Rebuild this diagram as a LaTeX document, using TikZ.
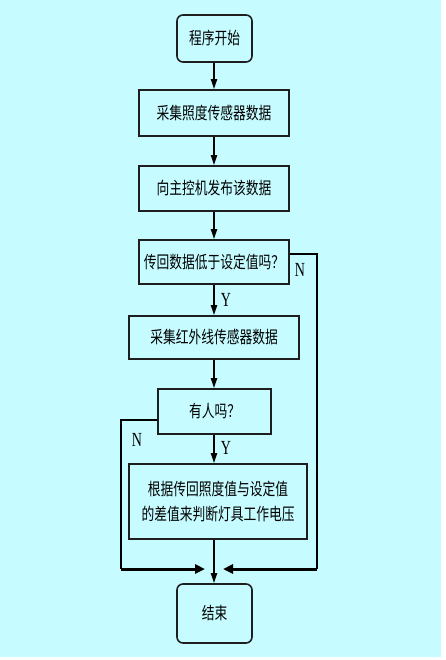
\documentclass[tikz,border=0pt]{standalone}
\usepackage{fontspec}
\setmainfont{Noto Sans CJK SC}[FakeStretch=0.75]
\newfontfamily\latinfont{Liberation Serif}[FakeStretch=0.7]
\usetikzlibrary{arrows.meta}
\definecolor{bgcyan}{RGB}{198,252,255}
\definecolor{boxline}{RGB}{30,30,30}
\begin{document}
\begin{tikzpicture}[x=1pt,y=-1pt,
  box/.style={draw=boxline,line width=1.6pt,fill=bgcyan,inner sep=0pt,
    font=\fontsize{17}{25}\selectfont,align=center},
  term/.style={box,rounded corners=6pt},
  conn/.style={draw=black,line width=1.8pt,-{Triangle[width=6pt,length=10pt]}},
  side/.style={draw=black,line width=1.8pt},
  merge/.style={draw=black,line width=3pt,-{Triangle[width=9pt,length=10pt]}},
  lab/.style={font=\latinfont\fontsize{20}{20}\selectfont,inner sep=0pt}]
\useasboundingbox (0,0) rectangle (445,660);
\fill[white] (0,0) rectangle (445,660);
\fill[bgcyan] (0,0) rectangle (441,657);
\node[term,minimum width=75pt,minimum height=47pt] (s) at (214.5,38.5) {程序开始};
\node[box,minimum width=150pt,minimum height=46pt] (b2) at (214,113) {采集照度传感器数据};
\node[box,minimum width=150pt,minimum height=45pt] (b3) at (214,188.5) {向主控机发布该数据};
\node[box,minimum width=150pt,minimum height=44pt] (b4) at (214,262) {传回数据低于设定值吗？};
\node[box,minimum width=170pt,minimum height=43pt] (b5) at (214,337.5) {采集红外线传感器数据};
\node[box,minimum width=113pt,minimum height=45pt] (b6) at (214.5,411.5) {有人吗？};
\node[box,minimum width=178pt,minimum height=75pt] (b7) at (218,501.5) {根据传回照度值与设定值\\的差值来判断灯具工作电压};
\node[term,minimum width=75pt,minimum height=59pt] (e) at (214.5,613.5) {结束};
\coordinate (m) at (214,569);
\coordinate (rtop) at (317,254);
\coordinate (rbot) at (317,569);
\coordinate (ltop) at (121,420);
\coordinate (lbot) at (121,569);
\draw[conn] (s.south -| m) -- (b2.north -| m);
\draw[conn] (b2.south -| m) -- (b3.north -| m);
\draw[conn] (b3.south -| m) -- (b4.north -| m);
\draw[conn] (b4.south -| m) -- (b5.north -| m);
\draw[conn] (b5.south -| m) -- (b6.north -| m);
\draw[conn] (b6.south -| m) -- (b7.north -| m);
\draw[conn] (b7.south -| m) -- (e.north -| m);
\draw[side] (b4.east |- rtop) -- (rtop) -- (rbot);
\draw[side] (b6.west |- ltop) -- (ltop) -- (lbot);
\draw[merge] (rbot) -- ([xshift=9pt]m);
\draw[merge] (lbot) -- ([xshift=-9pt]m);
\node[lab] (n1) at (300,270) {N};
\node[lab] (y1) at (226,300) {Y};
\node[lab] (n2) at (137,440) {N};
\node[lab] (y2) at (226,448) {Y};
\end{tikzpicture}
\end{document}
